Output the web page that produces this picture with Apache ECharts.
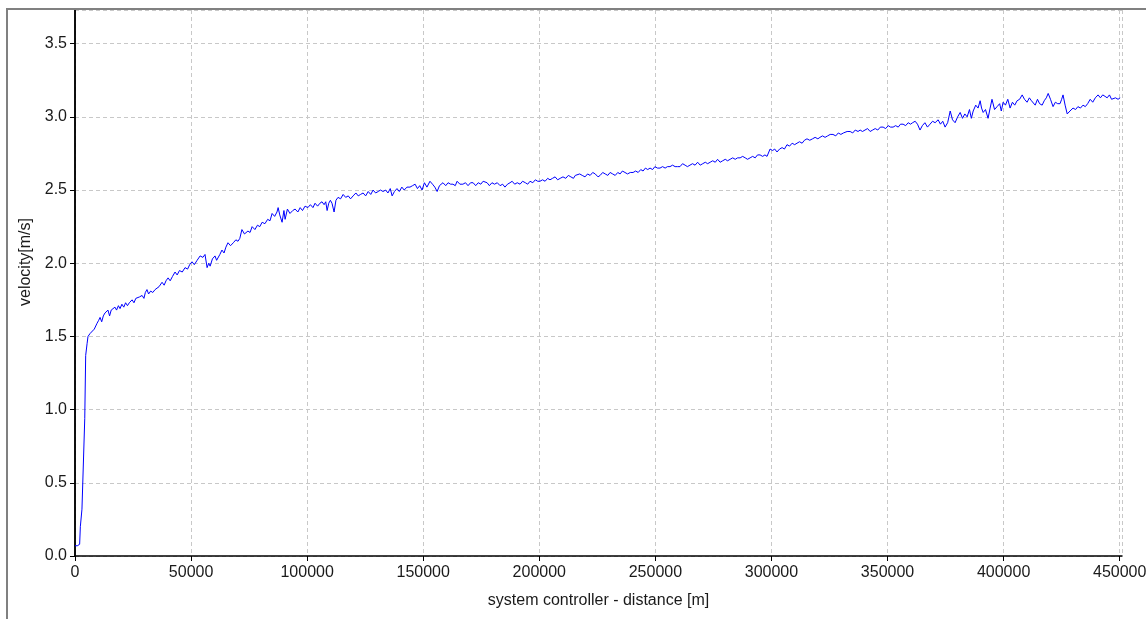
<!DOCTYPE html>
<html>
<head>
<meta charset="utf-8">
<script src="https://cdn.jsdelivr.net/npm/echarts@6/dist/echarts.min.js"></script>
<style>
html,body{margin:0;padding:0;background:#fff;}
#chart{width:1146px;height:619px;}
</style>
</head>
<body>
<div id="chart"></div>
<script>
// distance [m] (10 per line, aligned with velocity below)
const distance = [
0,1000,2000,2300,2800,3000,3800,4200,4600,5200,
5600,6500,7300,8300,9500,10200,10800,11500,12200,12900,
13600,14200,14900,15600,16400,17200,17900,18700,19400,20200,
21000,21800,22600,23400,24600,25400,26200,27000,27800,28900,
29700,30300,31000,31700,32600,33500,34500,35300,36200,37500,
38400,39200,40100,41000,42000,43100,44000,45000,46200,47400,
48500,49400,50400,51400,52600,53900,55100,56000,56900,57600,
58200,59200,60300,61000,61600,62400,63300,64200,65000,65900,
67000,68200,69300,70200,71000,71900,73000,74500,75400,76300,
77500,78600,79600,80600,81800,83000,84000,84900,86000,87000,
87500,88200,89200,90000,90500,91500,92600,93800,94800,96000,
97000,98000,99100,100300,101400,102500,103400,104500,105500,106400,
107300,108000,108600,109300,110000,110700,111600,112400,113300,114400,
115500,116600,117700,118700,119800,121000,122000,123000,124100,125200,
126300,127400,128400,129500,130600,131600,132700,133800,134800,135800,
136600,137600,138700,139700,140800,141800,143000,144300,145400,146500,
147500,148500,149500,150500,151600,152900,154000,155000,156000,157000,
158500,159700,160700,161800,162800,163800,164600,165800,167100,168200,
169300,170400,171500,172600,173700,174800,175800,177500,178500,179600,
180700,181900,183100,184200,185200,186300,187400,188300,189400,190500,
191700,192800,194000,195000,196000,197200,198300,199300,200300,201400,
202500,203600,204600,205700,206800,207900,209000,210200,211400,212500,
213600,214700,215500,216300,217400,218500,219700,220800,221900,223000,
224100,225300,226200,227300,228400,229500,230500,231600,232700,233800,
234800,235800,236900,238000,239200,240400,241500,242600,243700,244700,
245700,246700,247700,248800,249800,250900,252000,253100,254200,255200,
256300,257400,258500,259500,260600,261700,262800,263800,264900,266000,
267100,268200,269300,270400,271500,272500,273600,274700,275800,276800,
277900,279000,280100,281100,282200,283300,284400,285400,286500,287600,
288700,289700,290800,291900,293000,294000,295100,296200,297200,298100,
298800,299400,300500,301400,302400,303500,304600,305600,306700,307800,
308900,310000,311000,312100,313200,314200,315300,316500,317700,318800,
320000,320900,322000,323100,324200,325300,326500,327700,328800,329900,
331000,332600,333900,335000,336100,337300,338200,339200,340300,341400,
342500,343600,344700,345800,346900,348100,349200,350300,351300,352400,
353500,354600,355600,356700,357800,358900,359900,360800,361900,362900,
364000,365000,366100,367200,368300,369400,370500,371800,372800,373800,
374800,375900,377000,378000,379100,380200,381300,382300,383300,384300,
385300,386100,386900,388000,389000,389900,390500,391200,392200,393300,
394200,395000,396100,397200,398300,399000,399800,400800,401800,402800,
403800,404800,405800,406900,408000,409000,410100,411100,412000,412700,
413600,414600,415500,416600,417500,418400,419200,420200,421300,422300,
423300,424300,425000,425600,426500,427400,428600,429900,431000,432000,
433100,434200,435200,436200,437300,438400,439500,440700,441700,442700,
443700,444600,445600,446500,447200,448200,449300,450200
];
// velocity [m/s]
const velocity = [
0.07,0.07,0.08,0.20,0.21,0.32,0.33,0.94,1.37,1.45,
1.50,1.52,1.53,1.55,1.59,1.61,1.63,1.60,1.64,1.66,
1.65,1.68,1.64,1.68,1.67,1.70,1.68,1.71,1.69,1.72,
1.70,1.73,1.71,1.73,1.75,1.73,1.76,1.75,1.77,1.78,
1.76,1.80,1.82,1.79,1.81,1.80,1.82,1.83,1.84,1.87,
1.85,1.88,1.90,1.88,1.91,1.94,1.92,1.95,1.94,1.97,
1.96,1.99,2.01,1.99,2.02,2.05,2.04,2.06,1.97,2.00,
1.98,2.03,2.05,2.02,2.01,2.06,2.09,2.07,2.11,2.14,
2.12,2.14,2.16,2.15,2.17,2.23,2.20,2.22,2.21,2.25,
2.23,2.26,2.25,2.28,2.27,2.30,2.29,2.34,2.32,2.35,
2.38,2.33,2.28,2.36,2.30,2.37,2.34,2.36,2.37,2.35,
2.38,2.36,2.39,2.38,2.40,2.38,2.41,2.39,2.41,2.42,
2.40,2.42,2.36,2.41,2.43,2.41,2.35,2.43,2.45,2.44,
2.47,2.45,2.46,2.44,2.46,2.48,2.46,2.47,2.48,2.46,
2.49,2.47,2.50,2.48,2.49,2.50,2.49,2.50,2.48,2.51,
2.46,2.49,2.51,2.49,2.52,2.50,2.52,2.52,2.53,2.54,
2.51,2.53,2.50,2.55,2.52,2.56,2.54,2.52,2.49,2.53,
2.55,2.53,2.55,2.54,2.54,2.53,2.56,2.54,2.54,2.55,
2.53,2.55,2.55,2.53,2.55,2.54,2.56,2.55,2.53,2.55,
2.54,2.55,2.53,2.54,2.52,2.54,2.55,2.56,2.54,2.55,
2.54,2.56,2.55,2.54,2.56,2.55,2.57,2.56,2.56,2.57,
2.56,2.58,2.57,2.58,2.59,2.57,2.58,2.59,2.58,2.60,
2.59,2.58,2.60,2.59,2.61,2.60,2.59,2.61,2.60,2.62,
2.61,2.59,2.60,2.62,2.61,2.60,2.62,2.61,2.60,2.62,
2.61,2.63,2.62,2.61,2.62,2.62,2.63,2.62,2.64,2.63,
2.65,2.64,2.65,2.64,2.66,2.65,2.65,2.66,2.65,2.66,
2.66,2.67,2.66,2.66,2.66,2.68,2.67,2.66,2.67,2.68,
2.67,2.69,2.67,2.68,2.69,2.68,2.69,2.70,2.69,2.71,
2.69,2.70,2.71,2.70,2.71,2.72,2.71,2.72,2.72,2.73,
2.72,2.71,2.72,2.73,2.72,2.74,2.74,2.73,2.74,2.73,
2.74,2.78,2.77,2.78,2.76,2.78,2.79,2.78,2.81,2.80,
2.82,2.81,2.82,2.83,2.82,2.84,2.85,2.84,2.85,2.86,
2.85,2.86,2.87,2.86,2.87,2.88,2.88,2.87,2.89,2.88,
2.89,2.90,2.90,2.89,2.91,2.90,2.91,2.90,2.91,2.92,
2.90,2.91,2.92,2.91,2.93,2.93,2.92,2.94,2.93,2.93,
2.94,2.93,2.95,2.95,2.94,2.96,2.95,2.96,2.97,2.95,
2.91,2.94,2.96,2.93,2.95,2.97,2.96,2.98,2.95,2.97,
2.93,2.96,3.04,2.98,2.96,3.00,3.03,2.99,3.02,3.00,
3.05,2.99,3.04,3.08,3.06,3.11,3.06,3.03,3.05,2.99,
3.06,3.12,3.05,3.07,3.09,3.04,3.10,3.08,3.12,3.06,
3.10,3.08,3.11,3.12,3.15,3.12,3.10,3.13,3.11,3.11,
3.08,3.12,3.09,3.08,3.11,3.13,3.16,3.12,3.07,3.10,
3.09,3.09,3.12,3.15,3.08,3.02,3.04,3.06,3.05,3.07,
3.06,3.08,3.07,3.09,3.12,3.10,3.13,3.15,3.13,3.15,
3.14,3.13,3.15,3.12,3.12,3.13,3.12,3.13
];
const xTicks = [0,50000,100000,150000,200000,250000,300000,350000,400000,450000];
const yTicks = [0.0,0.5,1.0,1.5,2.0,2.5,3.0,3.5];

const n = Math.min(distance.length, velocity.length);
const points = [];
for (let i = 0; i < n; i++) points.push([distance[i], velocity[i]]);
const font = '"Liberation Sans", Arial, sans-serif';
const txt = '#1a1a1a';

const chart = echarts.init(document.getElementById('chart'), null, {renderer:'canvas'});
chart.setOption({
  animation:false,
  backgroundColor:'#fff',
  grid:{left:75, right:24, top:10, bottom:63, containLabel:false, outerBoundsMode:'none'},
  graphic:[{
    type:'rect', z:100, silent:true,
    shape:{x:7, y:9, width:1300, height:800},
    style:{fill:'none', stroke:'#808080', lineWidth:2}
  }],
  xAxis:{
    type:'value', min:0, max:451000, interval:50000,
    name:'system controller - distance [m]',
    nameLocation:'middle', nameGap:37,
    nameTextStyle:{fontFamily:font, fontSize:16, color:txt},
    axisLine:{show:true, onZero:false, lineStyle:{color:'#000', width:1.5}},
    axisTick:{show:true, length:5, lineStyle:{color:'#000', width:1}},
    axisLabel:{fontFamily:font, fontSize:16, color:txt, margin:9, showMaxLabel:false,
      formatter:v=> xTicks.indexOf(v)>=0 ? String(v) : ''},
    splitLine:{show:true, lineStyle:{color:'#c8c8c8', type:[4,3], width:1}}
  },
  yAxis:[{
    type:'value', min:0, max:3.73, interval:0.5,
    name:'velocity[m/s]',
    nameLocation:'middle', nameGap:37,
    nameTextStyle:{fontFamily:font, fontSize:16, color:txt, padding:[0,0,0,42]},
    axisLine:{show:true, onZero:false, lineStyle:{color:'#000', width:1.5}},
    axisTick:{show:true, length:5, lineStyle:{color:'#000', width:1}},
    axisLabel:{fontFamily:font, fontSize:16, color:txt, margin:8, showMaxLabel:false,
      formatter:v=>{ const t=yTicks.find(y=>Math.abs(y-v)<1e-6); return t===undefined?'':t.toFixed(1);} },
    splitLine:{show:true, lineStyle:{color:'#c8c8c8', type:[4,3], width:1}}
  },{
    type:'value', min:0, max:3.73, position:'right',
    axisLine:{show:true, lineStyle:{color:'#000', width:1.5}},
    axisTick:{show:false}, axisLabel:{show:false}, splitLine:{show:false}
  }],
  series:[{
    type:'line', data:points, showSymbol:false, symbol:'none',
    lineStyle:{color:'#0000ff', width:1}, itemStyle:{color:'#0000ff'},
    yAxisIndex:0
  }]
});
</script>
</body>
</html>
